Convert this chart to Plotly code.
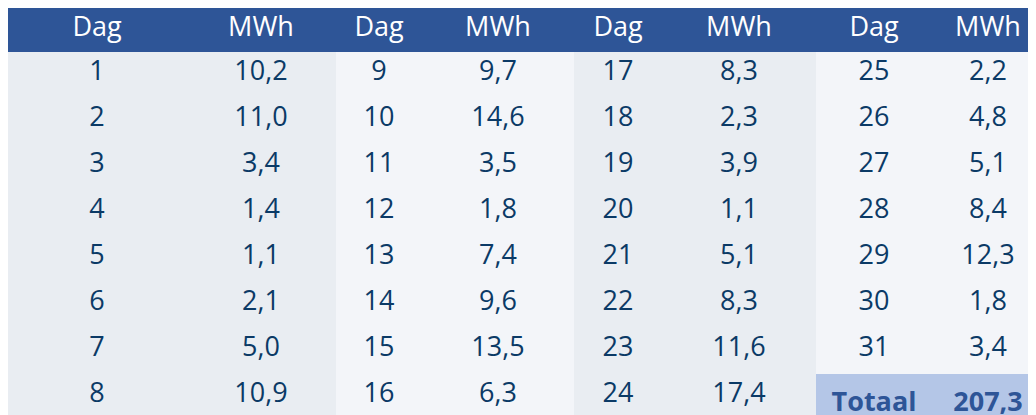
import plotly.graph_objects as go

days_1 = [1, 2, 3, 4, 5, 6, 7, 8]
mwh_1 = ["10,2", "11,0", "3,4", "1,4", "1,1", "2,1", "5,0", "10,9"]
days_2 = [9, 10, 11, 12, 13, 14, 15, 16]
mwh_2 = ["9,7", "14,6", "3,5", "1,8", "7,4", "9,6", "13,5", "6,3"]
days_3 = [17, 18, 19, 20, 21, 22, 23, 24]
mwh_3 = ["8,3", "2,3", "3,9", "1,1", "5,1", "8,3", "11,6", "17,4"]
days_4 = ["25", "26", "27", "28", "29", "30", "31", "<b>Totaal</b>"]
mwh_4 = ["2,2", "4,8", "5,1", "8,4", "12,3", "1,8", "3,4", "<b>207,3</b>"]

header = ["Dag", "MWh"] * 4
gray = "#e9edf2"
light = "#f3f5f9"
total = "#b4c6e7"

fills = [[gray] * 8, [gray] * 8, [light] * 8, [light] * 8,
         [gray] * 8, [gray] * 8, [light] * 7 + [total], [light] * 7 + [total]]

fig = go.Figure(go.Table(
    columnwidth=[178, 150, 86, 152, 88, 154, 116, 112],
    header=dict(values=header, fill_color="#2e5597", height=44,
                font=dict(color="white", size=27, family="Open Sans"),
                line=dict(width=0), align="center"),
    cells=dict(values=[days_1, mwh_1, days_2, mwh_2, days_3, mwh_3, days_4, mwh_4],
               fill_color=fills, height=46,
               font=dict(color=[["#0b3a66"] * 8] * 6 + [["#0b3a66"] * 7 + ["#2e5597"]] * 2,
                         size=27, family="Open Sans"),
               line=dict(width=0), align="center"),
    domain=dict(x=[0, 1], y=[0, 1]),
))
fig.update_layout(width=1036, height=415, margin=dict(l=0, r=0, t=0, b=0),
                  paper_bgcolor="white")
fig.write_html("out.html")
